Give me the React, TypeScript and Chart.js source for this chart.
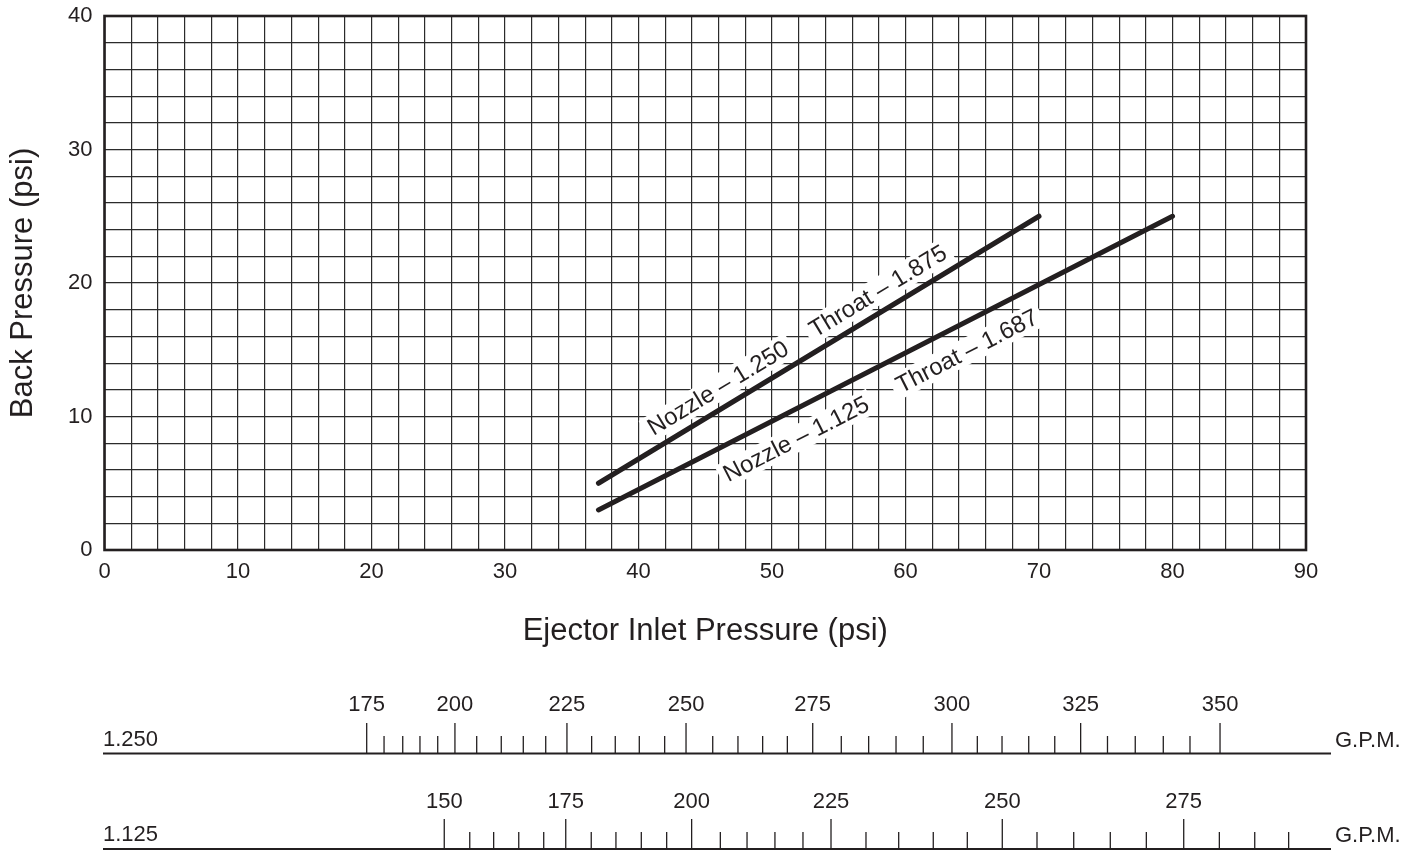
import React, { useEffect, useRef } from 'react';
import { Chart, registerables } from 'chart.js';

Chart.register(...registerables);

const FONT = "'Liberation Sans', Arial, Helvetica, sans-serif";
const INK = '#231f20';

// Performance curves (x = ejector inlet pressure, y = back pressure)
const nozzle1250X = [37, 70];
const nozzle1250Y = [5, 25];
const nozzle1125X = [37, 80];
const nozzle1125Y = [3, 25];

// Curve annotations (anchor in data units)
const lineLabelTexts = ['Nozzle – 1.250', 'Throat – 1.875', 'Nozzle – 1.125', 'Throat – 1.687'];
const lineLabelSeries = [0, 0, 1, 1];
const lineLabelX = [45.96, 57.94, 51.8, 64.6];
const lineLabelY = [12.13, 19.39, 8.31, 14.9];

// Axis ticks
const xTickLabels = [0, 10, 20, 30, 40, 50, 60, 70, 80, 90];
const yTickLabels = [0, 10, 20, 30, 40];

// G.P.M. auxiliary scales: flow value and the inlet pressure it sits at
const gpmRowNames = ['1.250', '1.125'];
const gpm1250 = [175, 180, 185, 190, 195, 200, 205, 210, 215, 220, 225, 230, 235, 240, 245, 250, 255, 260, 265, 270, 275, 280, 285, 290, 295, 300, 305, 310, 315, 320, 325, 330, 335, 340, 345, 350];
const gpm1250Pressure = [19.64, 20.94, 22.34, 23.63, 24.96, 26.25, 27.88, 29.72, 31.37, 33.05, 34.64, 36.49, 38.26, 40.06, 41.96, 43.56, 45.56, 47.45, 49.3, 51.15, 53.05, 55.19, 57.24, 59.29, 61.33, 63.48, 65.38, 67.23, 69.23, 71.18, 73.12, 75.13, 77.21, 79.31, 81.31, 83.56];
const gpm1125 = [150, 155, 160, 165, 170, 175, 180, 185, 190, 195, 200, 205, 210, 215, 220, 225, 230, 235, 240, 245, 250, 255, 260, 265, 270, 275, 280, 285, 290];
const gpm1125Pressure = [25.45, 27.36, 29.15, 31.03, 32.9, 34.55, 36.46, 38.31, 40.21, 42.11, 43.98, 46.13, 48.13, 50.22, 52.32, 54.42, 57.04, 59.49, 62.08, 64.63, 67.25, 69.85, 72.6, 75.34, 78.04, 80.84, 83.51, 86.16, 88.7];
const gpmMajorStep = 25;
const gpmUnit = 'G.P.M.';

const seriesX = [nozzle1250X, nozzle1125X];
const seriesY = [nozzle1250Y, nozzle1125Y];

const framePlugin = {
  id: 'frameAndLabels',
  beforeDatasetsDraw(chart: any) {
    const { ctx, chartArea } = chart;
    const xs = chart.scales.x;
    const ys = chart.scales.y;
    ctx.save();
    ctx.strokeStyle = INK;
    ctx.lineWidth = 2.6;
    ctx.strokeRect(chartArea.left, chartArea.top, chartArea.right - chartArea.left, chartArea.bottom - chartArea.top);

    ctx.font = `24px ${FONT}`;
    ctx.textAlign = 'center';
    ctx.textBaseline = 'middle';
    lineLabelTexts.forEach((txt, i) => {
      const s = lineLabelSeries[i];
      const x0 = xs.getPixelForValue(seriesX[s][0]);
      const y0 = ys.getPixelForValue(seriesY[s][0]);
      const x1 = xs.getPixelForValue(seriesX[s][1]);
      const y1 = ys.getPixelForValue(seriesY[s][1]);
      const ang = Math.atan2(y1 - y0, x1 - x0);
      const px = xs.getPixelForValue(lineLabelX[i]);
      const py = ys.getPixelForValue(lineLabelY[i]);
      const w = ctx.measureText(txt).width;
      ctx.save();
      ctx.translate(px, py);
      ctx.rotate(ang);
      ctx.fillStyle = '#ffffff';
      ctx.fillRect(-w / 2 - 5, -13, w + 10, 26);
      ctx.fillStyle = INK;
      ctx.fillText(txt, 0, 1);
      ctx.restore();
    });
    ctx.restore();
  },
  afterDraw(chart: any) {
    const { ctx } = chart;
    const xs = chart.scales.x;
    const rows = [
      { name: gpmRowNames[0], gpm: gpm1250, p: gpm1250Pressure, lineY: 753.5, labelY: 705, majorTop: 723, minorTop: 736 },
      { name: gpmRowNames[1], gpm: gpm1125, p: gpm1125Pressure, lineY: 849, labelY: 801.5, majorTop: 819, minorTop: 832 },
    ];
    ctx.save();
    rows.forEach((r) => {
      const lx0 = 103;
      const lx1 = 1331;
      ctx.strokeStyle = INK;
      ctx.lineWidth = 2.2;
      ctx.beginPath();
      ctx.moveTo(lx0, r.lineY);
      ctx.lineTo(lx1, r.lineY);
      ctx.stroke();

      ctx.fillStyle = INK;
      ctx.font = `22px ${FONT}`;
      ctx.textBaseline = 'middle';
      ctx.textAlign = 'left';
      ctx.fillText(r.name, lx0, r.lineY - 14);
      ctx.fillText(gpmUnit, lx1 + 4, r.lineY - 13);

      ctx.lineWidth = 1.3;
      r.gpm.forEach((g, i) => {
        const x = xs.getPixelForValue(r.p[i]);
        const major = g % gpmMajorStep === 0;
        ctx.beginPath();
        ctx.moveTo(x, major ? r.majorTop : r.minorTop);
        ctx.lineTo(x, r.lineY);
        ctx.stroke();
        if (major) {
          ctx.textAlign = 'center';
          ctx.fillText(String(g), x, r.labelY);
        }
      });
    });
    ctx.restore();
  },
};

export default function App() {
  const ref = useRef<HTMLCanvasElement | null>(null);

  useEffect(() => {
    if (!ref.current) return;
    const chart = new Chart(ref.current, {
      type: 'scatter',
      data: {
        datasets: seriesX.map((xsArr, si) => ({
          label: si === 0 ? 'Nozzle 1.250' : 'Nozzle 1.125',
          data: xsArr.map((x, i) => ({ x, y: seriesY[si][i] })),
          showLine: true,
          borderColor: INK,
          backgroundColor: INK,
          borderWidth: 5,
          borderCapStyle: 'round',
          pointRadius: 0,
          pointHoverRadius: 0,
        })),
      },
      options: {
        animation: false,
        responsive: false,
        devicePixelRatio: 1,
        layout: { padding: { left: 0, top: 16, right: 118, bottom: 202 } },
        plugins: {
          legend: { display: false },
          tooltip: { enabled: false },
        },
        scales: {
          x: {
            type: 'linear',
            min: 0,
            max: 90,
            afterFit: (s: any) => {
              s.height = 100;
              s.paddingLeft = 0;
              s.paddingRight = 0;
            },
            grid: { color: '#2b2b2b', lineWidth: 1.2, drawTicks: false },
            border: { display: false },
            ticks: {
              stepSize: 2,
              autoSkip: false,
              maxRotation: 0,
              padding: 9,
              color: INK,
              font: { family: FONT, size: 22 },
              callback: (v: any) => (xTickLabels.includes(Number(v)) ? String(v) : ''),
            },
            title: {
              display: true,
              text: 'Ejector Inlet Pressure (psi)',
              color: INK,
              font: { family: FONT, size: 31 },
              padding: { top: 0, bottom: 0 },
            },
          },
          y: {
            type: 'linear',
            min: 0,
            max: 40,
            afterFit: (s: any) => {
              s.width = 104.5;
              s.paddingTop = 0;
              s.paddingBottom = 0;
            },
            grid: { color: '#2b2b2b', lineWidth: 1.2, drawTicks: false },
            border: { display: false },
            ticks: {
              stepSize: 2,
              autoSkip: false,
              padding: 12,
              color: INK,
              font: { family: FONT, size: 22 },
              callback: (v: any) => (yTickLabels.includes(Number(v)) ? String(v) : ''),
            },
            title: {
              display: true,
              text: 'Back Pressure (psi)',
              color: INK,
              font: { family: FONT, size: 31 },
              padding: { top: 5, bottom: 0 },
            },
          },
        },
      },
      plugins: [framePlugin],
    } as any);
    return () => chart.destroy();
  }, []);

  return (
    <div style={{ position: 'fixed', left: 0, top: 0, width: 1424, height: 852, background: '#fff' }}>
      <canvas ref={ref} width={1424} height={852} style={{ display: 'block' }} />
    </div>
  );
}
